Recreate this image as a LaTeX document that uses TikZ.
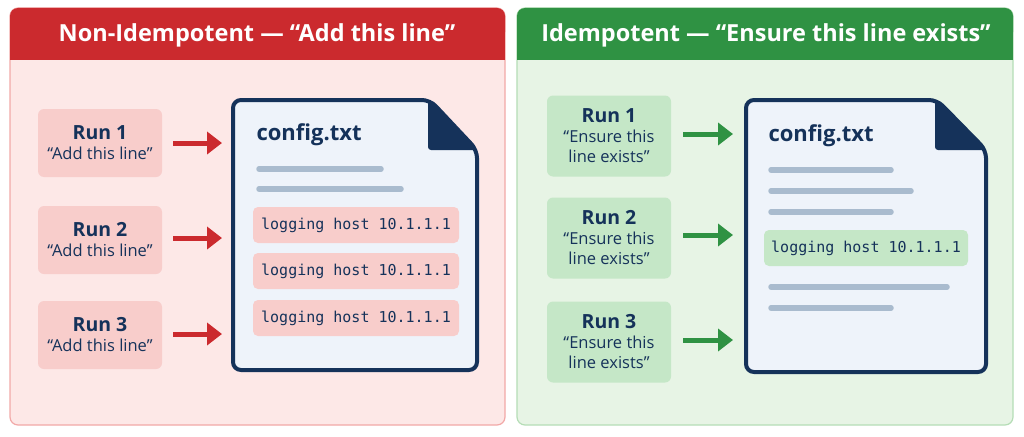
\documentclass[tikz,border=0pt]{standalone}
\usepackage{fontspec}
\setmainfont{Open Sans}
\newfontfamily\monof{DejaVu Sans Mono}
\usetikzlibrary{arrows.meta}
\definecolor{navy}{HTML}{15325A}
\definecolor{redh}{HTML}{CB2A2E}
\definecolor{redbg}{HTML}{FDE8E7}
\definecolor{redbox}{HTML}{F8CDCB}
\definecolor{redline}{HTML}{F2A9A8}
\definecolor{grnh}{HTML}{2F9243}
\definecolor{grnbg}{HTML}{E7F4E5}
\definecolor{grnbox}{HTML}{C5E7C7}
\definecolor{grnline}{HTML}{B5DDB6}
\definecolor{docbg}{HTML}{EEF3FA}
\definecolor{bar}{HTML}{A9BBCE}
\tikzset{
 x=1pt,y=-1pt,
 runbox/.style={rounded corners=6pt,inner sep=0pt,align=center,text=navy,font=\fontsize{16.5}{20}\selectfont},
 codebox/.style={rounded corners=5pt,inner sep=0pt,text=navy,font=\monof\fontsize{15}{17}\selectfont},
 hdr/.style={text=white,font=\bfseries\fontsize{23.5}{27}\selectfont},
 arr/.style={line width=5pt,-{Triangle[length=15pt,width=22pt]}},
 barl/.style={line width=5.5pt,line cap=round,bar},
 doc/.style={line width=4pt,draw=navy,fill=docbg,rounded corners=8pt},
 ftitle/.style={text=navy,font=\bfseries\fontsize{22}{25}\selectfont,anchor=west}
}
\begin{document}
\begin{tikzpicture}
\useasboundingbox (0,0) rectangle (1024,436);
\fill[white] (0,0) rectangle (1024,436);
% left panel
\draw[redline,fill=redbg,line width=1.2pt,rounded corners=8pt] (10,8) rectangle (505,425);
\fill[redh,rounded corners=8pt] (10,8) rectangle (505,40);
\fill[redh] (10,30) rectangle (505,60);
\node[hdr] (lt) at (257,35) {Non-Idempotent — “Add this line”};
\foreach \i/\y in {1/143,2/240,3/335}{
 \node[runbox,fill=redbox,minimum width=124pt,minimum height=68pt] (lr\i) at (100,\y) {{\bfseries\fontsize{19.5}{23}\selectfont Run \i}\\“Add this line”};
}
\draw[doc] (233,100) -- (430,100) -- (477,150) -- (477,370) -- (233,370) -- cycle;
\fill[navy,rounded corners=3pt] (428,100) -- (477,150) -- (428,150) -- cycle;
\node[ftitle] (lf) at (253,135) {config.txt};
\draw[barl] (259,169) -- (381,169);
\draw[barl] (259,189) -- (401,189);
\foreach \i/\y in {1/225,2/271,3/318}{
 \node[codebox,fill=redbox,minimum width=206pt,minimum height=36pt] (lc\i) at (356,\y) {logging host 10.1.1.1};
}
\foreach \i/\y in {1/143,2/238,3/334}{
 \coordinate (la\i) at (222,\y);
 \draw[arr,redh] (173,\y) -- (la\i);
}
% right panel
\draw[grnline,fill=grnbg,line width=1.2pt,rounded corners=8pt] (517,8) rectangle (1013,425);
\fill[grnh,rounded corners=8pt] (517,8) rectangle (1013,40);
\fill[grnh] (517,30) rectangle (1013,60);
\node[hdr] (rt) at (766,35) {Idempotent — “Ensure this line exists”};
\foreach \i/\y in {1/136,2/238,3/342}{
 \node[runbox,fill=grnbox,minimum width=124pt,minimum height=81pt] (rr\i) at (609,\y) {{\bfseries\fontsize{19.5}{23}\selectfont Run \i}\\“Ensure this\\line exists”};
}
\draw[doc] (746,100) -- (937,100) -- (986,150) -- (986,372) -- (746,372) -- cycle;
\fill[navy,rounded corners=3pt] (935,100) -- (986,150) -- (935,150) -- cycle;
\node[ftitle] (rf) at (765,136) {config.txt};
\draw[barl] (771,170) -- (891,170);
\draw[barl] (771,191) -- (911,191);
\draw[barl] (771,212) -- (891,212);
\node[codebox,fill=grnbox,minimum width=204pt,minimum height=36pt] (rc) at (866,248) {logging host 10.1.1.1};
\draw[barl] (771,287) -- (947,287);
\draw[barl] (771,308) -- (891,308);
\foreach \i/\y in {1/134,2/235,3/340}{
 \coordinate (ra\i) at (733,\y);
 \draw[arr,grnh] (683,\y) -- (ra\i);
}
\end{tikzpicture}
\end{document}
